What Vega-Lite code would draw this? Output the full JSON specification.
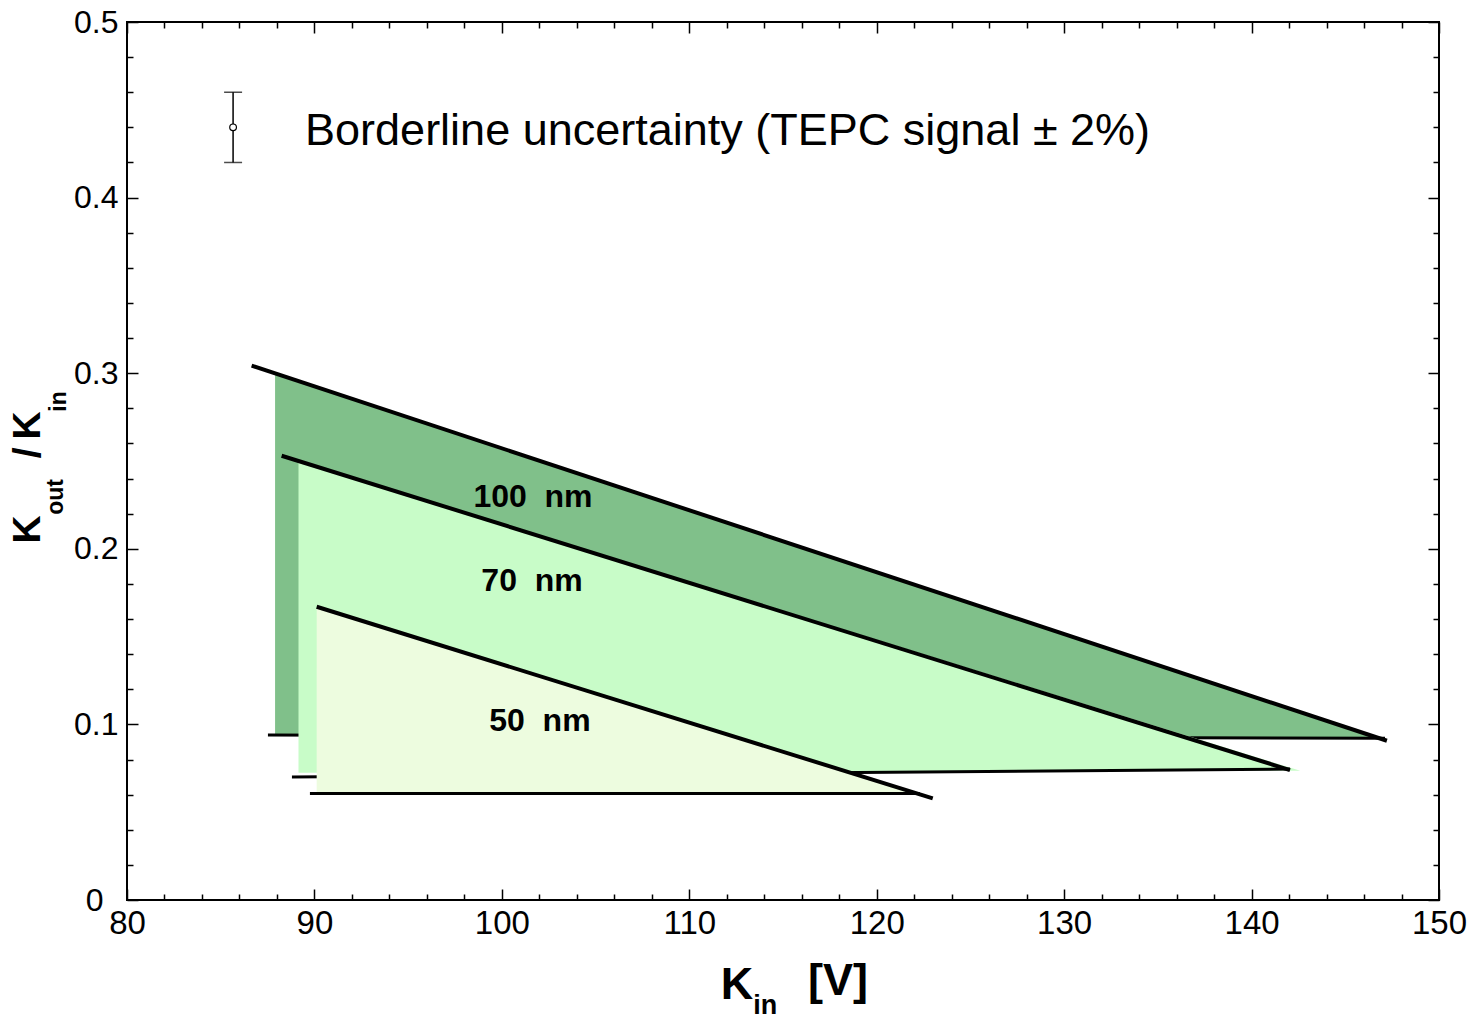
{
  "$schema": "https://vega.github.io/schema/vega-lite/v6.json",
  "width": 1312,
  "height": 878,
  "autosize": {"type": "none"},
  "padding": {"left": 127, "top": 22, "right": 39, "bottom": 120},
  "background": "white",
  "config": {
    "view": {"stroke": "black", "strokeWidth": 2},
    "axis": {
      "grid": false,
      "domain": false,
      "tickColor": "black",
      "tickWidth": 1.5,
      "labelColor": "black",
      "labelFont": "Liberation Sans",
      "labelFontSize": 33,
      "labelFlush": false,
      "labelOverlap": false,
      "labelBound": false
    },
    "text": {"font": "Liberation Sans", "color": "black"}
  },
  "datasets": {
    "regions": [
      {"size": "100 nm", "x": 87.9, "top": 0.2996, "bottom": 0.0945},
      {"size": "100 nm", "x": 147.1, "top": 0.0917, "bottom": 0.0919},
      {"size": "70 nm", "x": 89.15, "top": 0.25, "bottom": 0.0725},
      {"size": "70 nm", "x": 142.6, "top": 0.0736, "bottom": 0.0736},
      {"size": "50 nm", "x": 90.12, "top": 0.1665, "bottom": 0.0609},
      {"size": "50 nm", "x": 122.1, "top": 0.0609, "bottom": 0.0609}
    ],
    "edges": [
      {"size": "100 nm", "edge": "upper", "x": 86.65, "y": 0.3043, "x2": 147.22, "y2": 0.0907},
      {"size": "100 nm", "edge": "lower", "x": 87.52, "y": 0.094, "x2": 147.12, "y2": 0.0921},
      {"size": "70 nm", "edge": "upper", "x": 88.25, "y": 0.253, "x2": 142.05, "y2": 0.074},
      {"size": "70 nm", "edge": "lower", "x": 88.8, "y": 0.07, "x2": 142.05, "y2": 0.0746},
      {"size": "50 nm", "edge": "upper", "x": 90.12, "y": 0.167, "x2": 122.99, "y2": 0.0579},
      {"size": "50 nm", "edge": "lower", "x": 89.76, "y": 0.0607, "x2": 122.3, "y2": 0.0607}
    ],
    "sizeLabels": [
      {"text": "100\u00a0\u00a0nm", "x": 101.66, "y": 0.2295},
      {"text": "70\u00a0\u00a0nm", "x": 101.61, "y": 0.1817},
      {"text": "50\u00a0\u00a0nm", "x": 102.03, "y": 0.1019}
    ],
    "uncertainty": [
      {"x": 85.66, "center": 0.44, "lo": 0.42, "hi": 0.46}
    ],
    "legendText": [
      {"text": "Borderline uncertainty (TEPC signal ± 2%)", "x": 89.5, "y": 0.438}
    ],
    "yTitleMain": [
      {"text": "K", "x": 75.36, "y": 0.211},
      {"text": "/", "x": 75.36, "y": 0.2546},
      {"text": "K", "x": 75.36, "y": 0.2702}
    ],
    "yTitleSub": [
      {"text": "out", "x": 76.59, "y": 0.2295},
      {"text": "in", "x": 76.75, "y": 0.2839}
    ],
    "xTitleMain": [
      {"text": "K", "x": 112.55, "y": -0.0564},
      {"text": "[V]", "x": 117.93, "y": -0.0541}
    ],
    "xTitleSub": [
      {"text": "in", "x": 114.05, "y": -0.065}
    ]
  },
  "resolve": {"axis": {"x": "independent", "y": "independent"}},
  "layer": [
    {
      "data": {"name": "regions"},
      "transform": [{"filter": "datum.size === '100 nm'"}],
      "mark": {"type": "area", "color": "#80C08A", "opacity": 1},
      "encoding": {
        "x": {"field": "x", "type": "quantitative", "scale": {"domain": [80, 150], "nice": false, "zero": false},
          "axis": {"orient": "bottom", "values": [80, 90, 100, 110, 120, 130, 140, 150], "ticks": false, "labelPadding": 7, "format": "d", "title": null}},
        "y": {"field": "top", "type": "quantitative", "scale": {"domain": [0, 0.5], "nice": false, "zero": false},
          "axis": {"orient": "left", "values": [0, 0.1, 0.2, 0.3, 0.4, 0.5], "ticks": false, "labelFontSize": 32,
            "labelPadding": {"condition": {"test": "datum.value === 0", "value": 24}, "value": 9}, "format": "~g", "title": null}},
        "y2": {"field": "bottom"}
      }
    },
    {
      "data": {"name": "edges"},
      "transform": [{"filter": "datum.size === '100 nm' && datum.edge === 'lower'"}],
      "mark": {"type": "rule", "color": "black", "strokeWidth": 3},
      "encoding": {
        "x": {"field": "x", "type": "quantitative", "scale": {"domain": [80, 150], "nice": false, "zero": false},
          "axis": {"orient": "bottom", "values": [80, 90, 100, 110, 120, 130, 140, 150], "labels": false, "tickSize": 11, "offset": -11, "title": null}},
        "y": {"field": "y", "type": "quantitative", "scale": {"domain": [0, 0.5], "nice": false, "zero": false},
          "axis": {"orient": "left", "values": [0, 0.1, 0.2, 0.3, 0.4, 0.5], "labels": false, "tickSize": 11, "offset": -11, "title": null}},
        "x2": {"field": "x2"},
        "y2": {"field": "y2"}
      }
    },
    {
      "data": {"name": "regions"},
      "transform": [{"filter": "datum.size === '70 nm'"}],
      "mark": {"type": "area", "color": "#C8FCC8", "opacity": 1},
      "encoding": {
        "x": {"field": "x", "type": "quantitative", "scale": {"domain": [80, 150], "nice": false, "zero": false},
          "axis": {"orient": "bottom", "values": [82, 84, 86, 88, 92, 94, 96, 98, 102, 104, 106, 108, 112, 114, 116, 118, 122, 124, 126, 128, 132, 134, 136, 138, 142, 144, 146, 148], "labels": false, "tickSize": 6, "offset": -6, "title": null}},
        "y": {"field": "top", "type": "quantitative", "scale": {"domain": [0, 0.5], "nice": false, "zero": false},
          "axis": {"orient": "left", "values": [0.02, 0.04, 0.06, 0.08, 0.12, 0.14, 0.16, 0.18, 0.22, 0.24, 0.26, 0.28, 0.32, 0.34, 0.36, 0.38, 0.42, 0.44, 0.46, 0.48], "labels": false, "tickSize": 6, "offset": -6, "title": null}},
        "y2": {"field": "bottom"}
      }
    },
    {
      "data": {"name": "edges"},
      "transform": [{"filter": "datum.size === '70 nm' && datum.edge === 'lower'"}],
      "mark": {"type": "rule", "color": "black", "strokeWidth": 3},
      "encoding": {
        "x": {"field": "x", "type": "quantitative", "scale": {"domain": [80, 150], "nice": false, "zero": false},
          "axis": {"orient": "top", "values": [80, 90, 100, 110, 120, 130, 140, 150], "labels": false, "tickSize": 11, "offset": -11, "title": null}},
        "y": {"field": "y", "type": "quantitative", "scale": {"domain": [0, 0.5], "nice": false, "zero": false},
          "axis": {"orient": "right", "values": [0, 0.1, 0.2, 0.3, 0.4, 0.5], "labels": false, "tickSize": 11, "offset": -11, "title": null}},
        "x2": {"field": "x2"},
        "y2": {"field": "y2"}
      }
    },
    {
      "data": {"name": "regions"},
      "transform": [{"filter": "datum.size === '50 nm'"}],
      "mark": {"type": "area", "color": "#EDFCDF", "opacity": 1},
      "encoding": {
        "x": {"field": "x", "type": "quantitative", "scale": {"domain": [80, 150], "nice": false, "zero": false},
          "axis": {"orient": "top", "values": [82, 84, 86, 88, 92, 94, 96, 98, 102, 104, 106, 108, 112, 114, 116, 118, 122, 124, 126, 128, 132, 134, 136, 138, 142, 144, 146, 148], "labels": false, "tickSize": 6, "offset": -6, "title": null}},
        "y": {"field": "top", "type": "quantitative", "scale": {"domain": [0, 0.5], "nice": false, "zero": false},
          "axis": {"orient": "right", "values": [0.02, 0.04, 0.06, 0.08, 0.12, 0.14, 0.16, 0.18, 0.22, 0.24, 0.26, 0.28, 0.32, 0.34, 0.36, 0.38, 0.42, 0.44, 0.46, 0.48], "labels": false, "tickSize": 6, "offset": -6, "title": null}},
        "y2": {"field": "bottom"}
      }
    },
    {
      "data": {"name": "edges"},
      "transform": [{"filter": "datum.edge === 'upper'"}],
      "mark": {"type": "rule", "color": "black", "strokeWidth": 4},
      "encoding": {
        "x": {"field": "x", "type": "quantitative", "scale": {"domain": [80, 150], "nice": false, "zero": false}, "axis": null},
        "y": {"field": "y", "type": "quantitative", "scale": {"domain": [0, 0.5], "nice": false, "zero": false}, "axis": null},
        "x2": {"field": "x2"},
        "y2": {"field": "y2"}
      }
    },
    {
      "data": {"name": "edges"},
      "transform": [{"filter": "datum.size === '50 nm' && datum.edge === 'lower'"}],
      "mark": {"type": "rule", "color": "black", "strokeWidth": 3},
      "encoding": {
        "x": {"field": "x", "type": "quantitative", "scale": {"domain": [80, 150], "nice": false, "zero": false}, "axis": null},
        "y": {"field": "y", "type": "quantitative", "scale": {"domain": [0, 0.5], "nice": false, "zero": false}, "axis": null},
        "x2": {"field": "x2"},
        "y2": {"field": "y2"}
      }
    },
    {
      "data": {"name": "sizeLabels"},
      "mark": {"type": "text", "fontSize": 32, "fontWeight": "bold", "align": "center", "baseline": "middle"},
      "encoding": {
        "x": {"field": "x", "type": "quantitative", "scale": {"domain": [80, 150], "nice": false, "zero": false}, "axis": null},
        "y": {"field": "y", "type": "quantitative", "scale": {"domain": [0, 0.5], "nice": false, "zero": false}, "axis": null},
        "text": {"field": "text"}
      }
    },
    {
      "data": {"name": "uncertainty"},
      "mark": {"type": "rule", "color": "black", "strokeWidth": 1.5},
      "encoding": {
        "x": {"field": "x", "type": "quantitative", "scale": {"domain": [80, 150], "nice": false, "zero": false}, "axis": null},
        "y": {"field": "lo", "type": "quantitative", "scale": {"domain": [0, 0.5], "nice": false, "zero": false}, "axis": null},
        "y2": {"field": "hi"}
      }
    },
    {
      "data": {"name": "uncertainty"},
      "mark": {"type": "tick", "orient": "horizontal", "color": "black", "size": 18, "thickness": 1.5},
      "encoding": {
        "x": {"field": "x", "type": "quantitative", "scale": {"domain": [80, 150], "nice": false, "zero": false}, "axis": null},
        "y": {"field": "lo", "type": "quantitative", "scale": {"domain": [0, 0.5], "nice": false, "zero": false}, "axis": null}
      }
    },
    {
      "data": {"name": "uncertainty"},
      "mark": {"type": "tick", "orient": "horizontal", "color": "black", "size": 18, "thickness": 1.5},
      "encoding": {
        "x": {"field": "x", "type": "quantitative", "scale": {"domain": [80, 150], "nice": false, "zero": false}, "axis": null},
        "y": {"field": "hi", "type": "quantitative", "scale": {"domain": [0, 0.5], "nice": false, "zero": false}, "axis": null}
      }
    },
    {
      "data": {"name": "uncertainty"},
      "mark": {"type": "point", "shape": "circle", "filled": true, "fill": "white", "stroke": "black", "strokeWidth": 1.2, "size": 45, "opacity": 1},
      "encoding": {
        "x": {"field": "x", "type": "quantitative", "scale": {"domain": [80, 150], "nice": false, "zero": false}, "axis": null},
        "y": {"field": "center", "type": "quantitative", "scale": {"domain": [0, 0.5], "nice": false, "zero": false}, "axis": null}
      }
    },
    {
      "data": {"name": "legendText"},
      "mark": {"type": "text", "fontSize": 45, "align": "left", "baseline": "middle"},
      "encoding": {
        "x": {"field": "x", "type": "quantitative", "scale": {"domain": [80, 150], "nice": false, "zero": false}, "axis": null},
        "y": {"field": "y", "type": "quantitative", "scale": {"domain": [0, 0.5], "nice": false, "zero": false}, "axis": null},
        "text": {"field": "text"}
      }
    },
    {
      "data": {"name": "yTitleMain"},
      "mark": {"type": "text", "fontSize": 39, "fontWeight": "bold", "angle": 270, "align": "center", "baseline": "alphabetic"},
      "encoding": {
        "x": {"field": "x", "type": "quantitative", "scale": {"domain": [80, 150], "nice": false, "zero": false}, "axis": null},
        "y": {"field": "y", "type": "quantitative", "scale": {"domain": [0, 0.5], "nice": false, "zero": false}, "axis": null},
        "text": {"field": "text"}
      }
    },
    {
      "data": {"name": "yTitleSub"},
      "mark": {"type": "text", "fontSize": 23, "fontWeight": "bold", "angle": 270, "align": "center", "baseline": "alphabetic"},
      "encoding": {
        "x": {"field": "x", "type": "quantitative", "scale": {"domain": [80, 150], "nice": false, "zero": false}, "axis": null},
        "y": {"field": "y", "type": "quantitative", "scale": {"domain": [0, 0.5], "nice": false, "zero": false}, "axis": null},
        "text": {"field": "text"}
      }
    },
    {
      "data": {"name": "xTitleMain"},
      "mark": {"type": "text", "fontSize": 45, "fontWeight": "bold", "align": "center", "baseline": "alphabetic"},
      "encoding": {
        "x": {"field": "x", "type": "quantitative", "scale": {"domain": [80, 150], "nice": false, "zero": false}, "axis": null},
        "y": {"field": "y", "type": "quantitative", "scale": {"domain": [0, 0.5], "nice": false, "zero": false}, "axis": null},
        "text": {"field": "text"}
      }
    },
    {
      "data": {"name": "xTitleSub"},
      "mark": {"type": "text", "fontSize": 27, "fontWeight": "bold", "align": "center", "baseline": "alphabetic"},
      "encoding": {
        "x": {"field": "x", "type": "quantitative", "scale": {"domain": [80, 150], "nice": false, "zero": false}, "axis": null},
        "y": {"field": "y", "type": "quantitative", "scale": {"domain": [0, 0.5], "nice": false, "zero": false}, "axis": null},
        "text": {"field": "text"}
      }
    }
  ]
}
